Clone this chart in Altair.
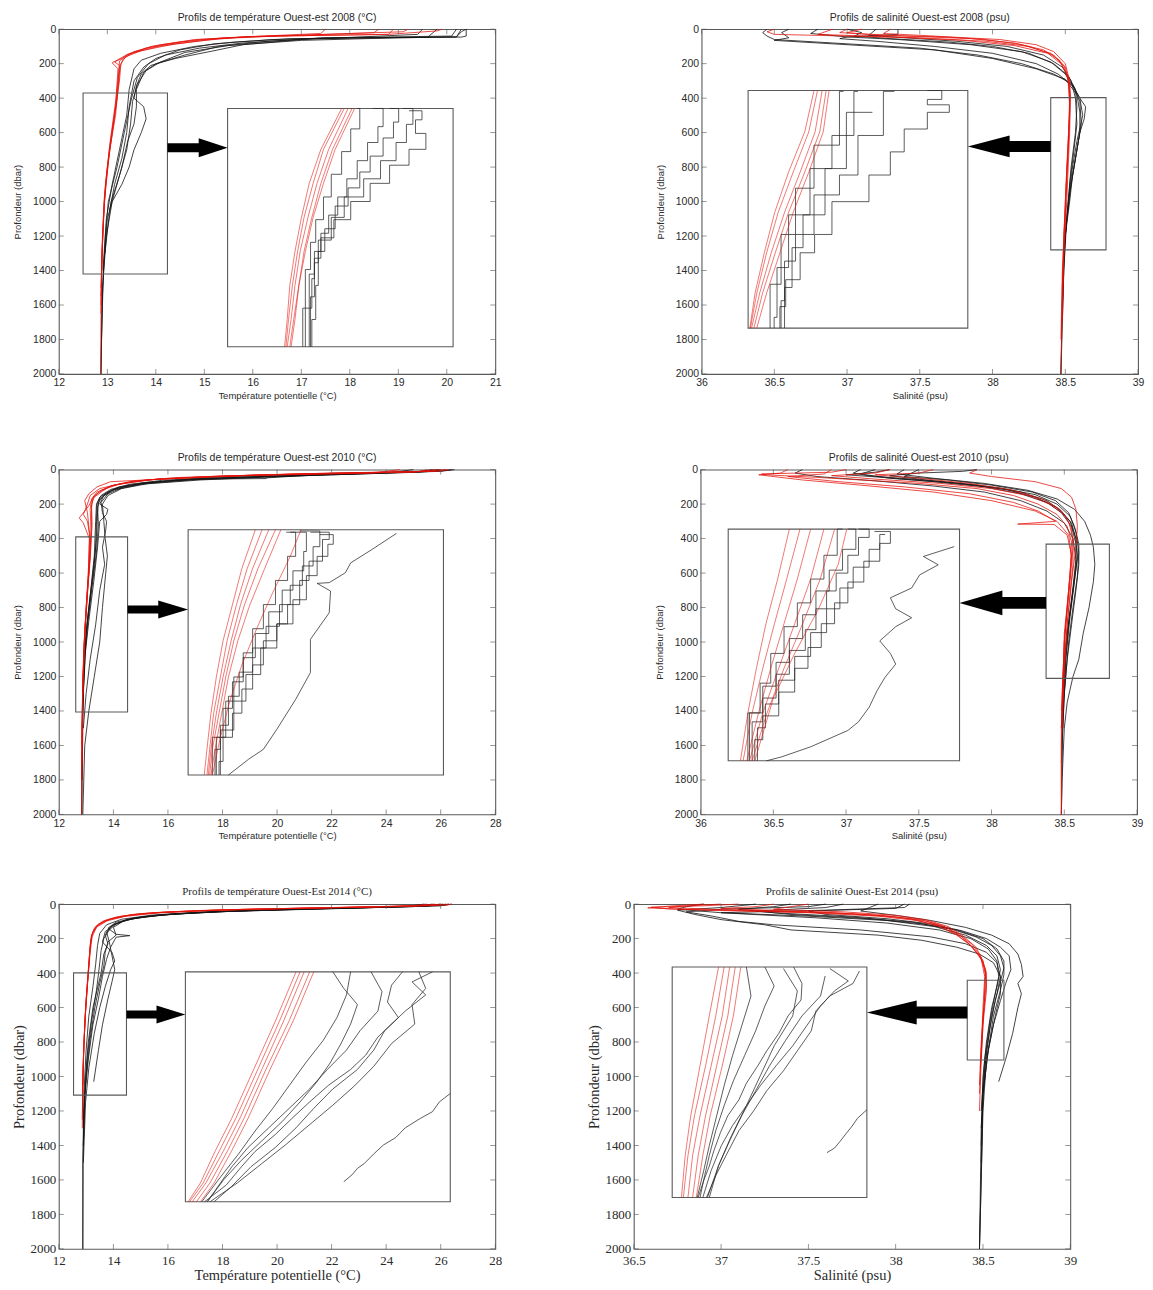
import altair as alt
import pandas as pd

# ---------------- data: profiles as (depth dbar, value) ----------------
# Panel 1 : temperature 2008
T08_RED = [
    [(0,19.2),(15,19.1),(30,17.5),(45,15.8),(65,15.0),(100,14.05),(140,13.5),(175,13.32),(220,13.26),(350,13.22),(500,13.17),(700,13.05),(900,12.97),(1100,12.92),(1400,12.88),(1700,12.87),(2000,12.86)],
    [(0,18.6),(20,18.5),(35,17.0),(50,15.4),(75,14.5),(110,13.8),(150,13.4),(185,13.25),(250,13.24),(400,13.2),(600,13.1),(800,13.0),(1000,12.93),(1300,12.89),(1650,12.87)],
    [(0,17.5),(25,17.4),(40,16.2),(60,14.9),(90,14.1),(130,13.55),(170,13.3),(190,13.15),(210,13.25),(400,13.18),(650,13.06),(900,12.96),(1200,12.9),(1500,12.87)],
    [(0,19.9),(10,19.8),(30,18.8),(40,16.5),(55,15.3),(85,14.4),(125,13.7),(160,13.38),(200,13.28),(300,13.25),(500,13.15),(750,13.03),(1000,12.94),(1300,12.89),(1600,12.87)],
    [(0,18.9),(30,18.8),(42,16.0),(60,14.8),(100,13.9),(145,13.42),(180,13.2),(195,13.1),(230,13.22),(450,13.17),(700,13.04),(950,12.95),(1250,12.9),(1550,12.87)],
]
T08_BLACK = [
    [(0,20.4),(40,20.4),(46,20.3),(50,18.0),(60,17.0),(90,15.8),(125,15.2),(170,14.4),(210,13.9),(260,13.7),(330,13.6),(400,13.55),(450,13.75),(520,13.8),(600,13.7),(700,13.55),(800,13.45),(900,13.3),(1000,13.1),(1200,12.98),(1500,12.9),(2000,12.87)],
    [(0,20.4),(15,20.3),(45,20.2),(52,17.4),(70,16.3),(100,15.3),(150,14.6),(200,14.0),(250,13.75),(350,13.6),(450,13.6),(550,13.55),(650,13.42),(800,13.3),(950,13.15),(1100,13.0),(1400,12.92),(1800,12.88)],
    [(0,19.5),(30,19.4),(48,18.0),(60,16.4),(85,15.2),(120,14.5),(170,14.0),(220,13.75),(300,13.55),(450,13.45),(600,13.4),(750,13.3),(900,13.15),(1050,13.05),(1300,12.95)],
    [(0,20.3),(45,20.2),(50,19.0),(65,17.0),(95,15.5),(135,14.6),(190,14.1),(240,13.8),(320,13.62),(420,13.52),(550,13.48),(700,13.4),(850,13.25),(1000,13.08),(1050,13.05)],
    [(0,20.2),(40,20.1),(50,17.5),(80,15.8),(110,14.9),(150,14.2),(200,13.85),(280,13.62),(400,13.5),(600,13.35),(800,13.2),(1000,13.02),(1200,12.96),(1600,12.89),(2000,12.87)],
    [(0,19.8),(48,19.6),(55,16.8),(75,15.6),(100,14.8),(140,14.1),(180,13.7),(230,13.55),(350,13.45),(500,13.4),(700,13.25),(900,13.1),(1100,12.98),(1400,12.91)],
]
T08_INSET_RED = [
    [(370,13.46),(550,13.31),(700,13.22),(850,13.15),(1000,13.09),(1150,13.05),(1300,13.01),(1420,12.98)],
    [(370,13.43),(550,13.28),(700,13.19),(850,13.12),(1000,13.06),(1150,13.02),(1300,12.99),(1420,12.96)],
    [(370,13.40),(550,13.24),(700,13.16),(850,13.09),(1000,13.04),(1150,13.0),(1300,12.97),(1420,12.95)],
    [(370,13.48),(550,13.33),(700,13.24),(850,13.16),(1000,13.1),(1150,13.05),(1300,13.02),(1420,12.99)],
    [(370,13.38),(550,13.22),(700,13.13),(850,13.07),(1000,13.02),(1150,12.98),(1300,12.96),(1420,12.94)],
]
T08_INSET_BLACK = [
    [(380,13.9),(420,14.0),(480,13.95),(550,14.03),(620,13.9),(700,13.75),(780,13.6),(860,13.45),(940,13.32),(1030,13.22),(1120,13.17),(1250,13.15),(1420,13.13)],
    [(370,13.62),(450,13.7),(520,13.66),(600,13.58),(680,13.5),(760,13.42),(840,13.35),(920,13.28),(1000,13.22),(1100,13.17),(1250,13.13),(1420,13.1)],
    [(370,13.75),(430,13.82),(500,13.78),(580,13.7),(650,13.6),(720,13.52),(800,13.43),(900,13.33),(1000,13.25),(1150,13.2),(1300,13.18),(1420,13.15)],
    [(370,13.5),(460,13.52),(560,13.45),(660,13.38),(760,13.3),(860,13.24),(960,13.18),(1080,13.14),(1250,13.1),(1420,13.08)],
    [(370,13.85),(440,13.93),(520,13.88),(600,13.8),(680,13.68),(760,13.55),(850,13.4),(950,13.3),(1050,13.2),(1200,13.17),(1420,13.14)],
]
T08_INSET_OUT = []

# Panel 2 : salinity 2008
S08_RED = [
    [(0,37.1),(20,37.0),(35,37.2),(45,37.7),(60,38.05),(90,38.3),(130,38.42),(200,38.5),(300,38.53),(400,38.535),(600,38.53),(800,38.52),(1000,38.51),(1300,38.49),(1600,38.48),(2000,38.47)],
    [(0,36.5),(15,36.45),(30,36.5),(50,37.5),(70,37.95),(100,38.25),(150,38.42),(220,38.5),(320,38.53),(500,38.53),(800,38.51),(1100,38.5),(1400,38.485),(1700,38.48)],
    [(0,37.3),(25,37.25),(40,37.6),(60,37.95),(90,38.2),(140,38.4),(210,38.49),(300,38.52),(450,38.53),(700,38.52),(1000,38.5),(1400,38.48),(1800,38.47)],
    [(0,36.9),(30,36.8),(45,37.3),(65,37.8),(95,38.15),(140,38.38),(200,38.47),(280,38.52),(400,38.53),(650,38.52),(900,38.51),(1200,38.49),(1500,38.48)],
    [(0,37.0),(20,36.95),(40,37.4),(55,37.85),(80,38.15),(120,38.35),(180,38.46),(260,38.51),(380,38.535),(600,38.525),(900,38.505),(1250,38.49),(1600,38.48)],
]
S08_BLACK = [
    [(0,37.35),(30,37.35),(45,37.0),(55,36.95),(70,37.2),(100,37.6),(140,38.0),(200,38.3),(260,38.45),(330,38.55),(400,38.6),(450,38.64),(520,38.63),(600,38.6),(700,38.58),(850,38.55),(1000,38.53),(1200,38.5),(1500,38.48),(2000,38.47)],
    [(0,36.45),(20,36.42),(40,36.45),(60,36.5),(80,36.9),(110,37.5),(150,37.9),(200,38.2),(260,38.42),(320,38.55),(400,38.6),(500,38.62),(650,38.58),(800,38.55),(1000,38.52),(1300,38.49),(1700,38.48)],
    [(0,37.0),(20,37.1),(40,37.05),(55,37.3),(75,37.7),(100,38.0),(140,38.25),(200,38.42),(270,38.52),(350,38.57),(450,38.58),(600,38.57),(800,38.54),(1000,38.52),(1300,38.49)],
    [(0,37.2),(35,37.15),(50,37.4),(70,37.75),(100,38.1),(150,38.35),(220,38.48),(300,38.54),(400,38.57),(550,38.58),(700,38.56),(900,38.53),(1050,38.52)],
    [(0,36.8),(25,36.75),(45,37.0),(60,37.35),(90,37.85),(130,38.2),(190,38.4),(260,38.5),(340,38.56),(420,38.6),(550,38.61),(700,38.58),(900,38.54),(1100,38.51),(1400,38.49),(2000,38.47)],
    [(0,36.6),(20,36.55),(50,36.6),(65,36.5),(90,37.0),(120,37.6),(170,38.0),(230,38.3),(290,38.5),(380,38.58),(480,38.6),(600,38.6),(750,38.57),(950,38.53),(1200,38.5),(1600,38.48)],
]
S08_INSET_RED = [
    [(397,38.540),(550,38.530),(700,38.505),(850,38.478),(1000,38.455),(1150,38.432),(1280,38.415)],
    [(397,38.535),(550,38.524),(700,38.498),(850,38.470),(1000,38.447),(1150,38.425),(1280,38.41)],
    [(397,38.528),(550,38.516),(700,38.49),(850,38.463),(1000,38.44),(1150,38.42),(1280,38.406)],
    [(397,38.520),(550,38.505),(700,38.478),(850,38.452),(1000,38.432),(1150,38.415),(1280,38.404)],
    [(397,38.514),(550,38.498),(700,38.47),(850,38.446),(1000,38.428),(1150,38.412),(1280,38.403)],
]
S08_INSET_BLACK = [
    [(397,38.71),(430,38.735),(450,38.71),(478,38.748),(540,38.71),(625,38.67),(711,38.646),(810,38.609),(932,38.545),(1000,38.515),(1100,38.49),(1200,38.465),(1280,38.455)],
    [(400,38.653),(564,38.634),(711,38.59),(785,38.558),(932,38.514),(1031,38.482),(1178,38.463),(1280,38.457)],
    [(400,38.59),(564,38.583),(687,38.545),(859,38.507),(1055,38.47),(1240,38.45),(1280,38.445)],
    [(400,38.565),(600,38.558),(760,38.514),(932,38.482),(1117,38.457),(1280,38.438)],
    [(478,38.615),(687,38.57),(859,38.533),(981,38.495),(1129,38.476),(1280,38.463)],
]
S08_INSET_OUT = []

# Panel 3 : temperature 2010
T10_RED = [
    [(0,26.3),(8,26.0),(20,22.0),(35,18.5),(55,15.6),(80,14.3),(110,13.5),(150,13.15),(200,13.05),(260,12.9),(300,13.05),(400,13.15),(600,13.1),(800,13.0),(1000,12.93),(1200,12.88),(1500,12.85),(2000,12.83)],
    [(0,26.0),(10,25.6),(25,21.0),(40,17.5),(60,15.2),(90,14.0),(130,13.4),(170,13.2),(230,13.15),(350,13.18),(500,13.14),(700,13.05),(900,12.97),(1100,12.91),(1400,12.86),(1800,12.84)],
    [(0,25.5),(12,25.2),(28,20.0),(45,16.5),(65,14.8),(100,13.8),(150,13.3),(210,13.1),(280,12.75),(310,12.9),(400,13.12),(600,13.08),(800,13.0),(1000,12.93),(1300,12.87),(1600,12.85)],
    [(0,26.2),(10,25.8),(22,21.5),(38,17.8),(58,15.4),(85,14.2),(120,13.55),(165,13.25),(220,13.2),(320,13.22),(450,13.17),(650,13.08),(850,12.99),(1050,12.92),(1350,12.87),(1700,12.85)],
    [(0,25.8),(15,25.0),(30,19.5),(50,16.0),(70,14.6),(95,13.9),(125,13.6),(160,13.3),(200,13.2),(300,13.2),(500,13.16),(700,13.06),(900,12.98),(1200,12.9)],
    [(0,24.5),(20,23.5),(35,18.8),(55,15.8),(70,13.9),(100,13.4),(140,13.1),(180,12.95),(250,13.05),(380,13.13),(550,13.1),(750,13.03),(950,12.95),(1250,12.88),(1600,12.85)],
]
T10_BLACK = [
    [(0,26.5),(10,26.0),(25,22.5),(45,18.5),(65,16.0),(90,14.6),(120,13.9),(160,13.5),(200,13.4),(300,13.38),(450,13.35),(600,13.25),(800,13.1),(1000,12.97),(1200,12.9),(1500,12.86),(2000,12.84)],
    [(0,26.0),(12,25.5),(30,21.5),(48,19.6),(52,19.6),(55,17.0),(75,15.2),(100,14.2),(140,13.7),(190,13.45),(250,13.42),(400,13.38),(550,13.3),(750,13.15),(950,13.0),(1150,12.92),(1500,12.86)],
    [(0,25.7),(15,25.0),(35,20.5),(55,16.8),(80,15.0),(110,14.1),(150,13.65),(200,13.5),(230,13.8),(260,13.75),(300,13.5),(450,13.42),(650,13.28),(850,13.12),(1050,12.98),(1300,12.9),(1800,12.85)],
    [(0,26.2),(10,25.7),(28,21.8),(50,17.5),(72,15.5),(100,14.4),(140,13.8),(190,13.55),(250,13.6),(300,13.75),(350,13.72),(450,13.6),(550,13.68),(700,13.5),(900,13.35),(1100,13.15),(1300,13.0),(1500,12.9)],
    [(0,25.9),(15,25.2),(35,21.0),(58,17.0),(80,15.3),(110,14.3),(150,13.8),(200,13.6),(300,13.65),(400,13.7),(500,13.78),(600,13.72),(800,13.6),(1000,13.5),(1200,13.3),(1400,13.1),(1600,12.95),(2000,12.88)],
    [(0,26.4),(8,26.0),(22,22.0),(40,18.2),(62,15.8),(85,14.6),(115,13.9),(150,13.55),(200,13.38),(300,13.35),(500,13.3),(700,13.17),(900,13.03),(1100,12.94),(1400,12.87),(2000,12.84)],
    [(0,25.0),(20,24.0),(40,20.0),(60,17.2),(85,15.0),(120,13.95),(170,13.5),(220,13.42),(320,13.45),(480,13.38),(680,13.22),(880,13.07),(1080,12.96),(1350,12.88)],
]
T10_INSET_RED = [
    [(390,13.12),(550,13.02),(700,12.95),(850,12.88),(1000,12.83),(1150,12.79),(1300,12.76),(1406,12.74)],
    [(390,13.17),(550,13.06),(700,12.98),(850,12.91),(1000,12.86),(1150,12.81),(1300,12.78),(1406,12.76)],
    [(390,13.22),(550,13.1),(700,13.01),(850,12.94),(1000,12.88),(1150,12.83),(1300,12.79),(1406,12.77)],
    [(390,13.27),(550,13.14),(700,13.04),(850,12.96),(1000,12.9),(1150,12.85),(1300,12.8),(1406,12.78)],
    [(390,13.31),(550,13.19),(700,13.08),(850,12.99),(1000,12.92),(1150,12.87),(1300,12.82),(1406,12.79)],
    [(390,13.46),(500,13.38),(650,13.25),(800,13.13),(950,13.02),(1100,12.93),(1250,12.86),(1406,12.8)],
]
T10_INSET_BLACK = [
    [(400,13.53),(430,13.67),(520,13.62),(600,13.52),(700,13.45),(780,13.36),(850,13.28),(950,13.18),(1050,13.1),(1150,13.02),(1250,12.95),(1350,12.88),(1406,12.85)],
    [(395,13.45),(460,13.6),(540,13.55),(620,13.47),(700,13.38),(790,13.3),(880,13.2),(980,13.1),(1080,13.0),(1200,12.92),(1300,12.86),(1406,12.82)],
    [(400,13.38),(480,13.5),(560,13.48),(640,13.4),(730,13.32),(820,13.22),(920,13.12),(1020,13.03),(1130,12.95),(1250,12.88),(1406,12.8)],
    [(410,13.6),(450,13.7),(500,13.66),(580,13.58),(680,13.5),(780,13.4),(880,13.28),(990,13.16),(1100,13.05),(1220,12.96),(1406,12.86)],
    [(400,13.35),(500,13.42),(600,13.36),(700,13.27),(800,13.18),(900,13.1),(1000,13.03),(1100,12.96),(1250,12.9),(1406,12.83)],
]
T10_INSET_OUT = [
    [(405,14.17),(471,13.99),(527,13.83),(568,13.79),(609,13.67),(612,13.58),(644,13.68),(734,13.67),(844,13.53),(982,13.53),(1093,13.42),(1217,13.28),(1300,13.18),(1341,13.07),(1406,12.92)],
]

# Panel 4 : salinity 2010
S10_RED = [
    [(0,37.0),(15,36.9),(25,36.42),(30,36.45),(45,36.8),(60,37.1),(80,37.5),(110,37.9),(150,38.15),(200,38.32),(260,38.45),(330,38.52),(420,38.55),(600,38.54),(800,38.52),(1000,38.5),(1300,38.49),(1600,38.48),(2000,38.48)],
    [(0,37.3),(20,37.2),(35,36.9),(55,37.2),(80,37.65),(110,38.0),(150,38.25),(200,38.4),(260,38.5),(340,38.55),(450,38.56),(650,38.54),(900,38.51),(1200,38.49),(1500,38.48)],
    [(0,36.9),(25,36.85),(40,36.6),(70,36.95),(100,37.4),(140,37.85),(190,38.15),(240,38.32),(300,38.44),(316,38.18),(318,38.43),(380,38.52),(500,38.55),(700,38.53),(950,38.5),(1300,38.49)],
    [(0,37.9),(20,37.85),(40,38.0),(70,38.3),(110,38.48),(160,38.55),(230,38.58),(330,38.59),(450,38.58),(650,38.55),(900,38.52),(1200,38.5),(1500,38.485)],
    [(0,36.6),(20,36.55),(30,36.4),(60,36.7),(90,37.1),(130,37.6),(180,38.0),(240,38.3),(300,38.45),(380,38.53),(500,38.55),(700,38.53),(1000,38.5),(1400,38.48)],
    [(0,37.6),(20,37.5),(30,37.2),(50,37.5),(80,37.85),(120,38.15),(170,38.35),(230,38.47),(300,38.53),(400,38.56),(550,38.56),(800,38.53),(1100,38.5),(1500,38.48),(2000,38.48)],
]
S10_BLACK = [
    [(0,37.3),(15,37.2),(30,37.0),(45,37.25),(70,37.6),(100,37.95),(140,38.2),(190,38.38),(250,38.48),(330,38.55),(430,38.58),(550,38.58),(700,38.56),(900,38.53),(1100,38.51),(1400,38.49),(2000,38.48)],
    [(0,37.1),(20,37.05),(35,37.15),(55,37.45),(80,37.8),(115,38.1),(160,38.3),(220,38.45),(300,38.54),(400,38.58),(500,38.59),(650,38.57),(850,38.54),(1100,38.51),(1500,38.49)],
    [(0,37.9),(10,37.8),(20,37.5),(35,37.3),(60,37.55),(90,37.9),(130,38.2),(180,38.38),(240,38.48),(310,38.55),(400,38.58),(520,38.59),(700,38.56),(950,38.52),(1300,38.49)],
    [(0,37.4),(25,37.35),(50,37.6),(80,37.95),(120,38.25),(170,38.45),(230,38.57),(300,38.64),(380,38.68),(450,38.7),(550,38.71),(650,38.7),(800,38.67),(950,38.63),(1100,38.6),(1200,38.56),(1350,38.52),(1500,38.5),(1800,38.485),(2000,38.48)],
    [(0,36.7),(20,36.65),(40,36.8),(65,37.2),(95,37.6),(130,37.95),(180,38.2),(240,38.38),(310,38.5),(400,38.56),(520,38.58),(680,38.56),(880,38.53),(1100,38.5),(1500,38.48)],
    [(0,37.5),(20,37.45),(40,37.4),(60,37.7),(90,38.0),(130,38.28),(180,38.44),(250,38.53),(330,38.57),(430,38.6),(550,38.6),(700,38.58),(900,38.55),(1100,38.52),(1400,38.49)],
    [(0,37.2),(25,37.1),(50,37.3),(75,37.7),(105,38.05),(145,38.3),(200,38.45),(270,38.54),(360,38.58),(480,38.6),(620,38.59),(800,38.56),(1000,38.53),(1300,38.5),(1700,38.48)],
]
S10_INSET_RED = [
    [(432,38.49),(600,38.468),(750,38.446),(900,38.428),(1050,38.412),(1211,38.398)],
    [(432,38.51),(600,38.485),(750,38.462),(900,38.44),(1050,38.42),(1211,38.403)],
    [(432,38.53),(600,38.505),(750,38.48),(900,38.455),(1050,38.432),(1211,38.41)],
    [(432,38.555),(600,38.53),(750,38.5),(900,38.47),(1050,38.44),(1211,38.415)],
    [(432,38.575),(600,38.548),(750,38.515),(900,38.48),(1050,38.448),(1211,38.42)],
    [(432,38.598),(550,38.582),(700,38.545),(850,38.5),(1000,38.46),(1211,38.425)],
]
S10_INSET_BLACK = [
    [(432,38.62),(460,38.64),(520,38.62),(580,38.6),(640,38.578),(700,38.56),(770,38.54),(840,38.52),(920,38.49),(1000,38.465),(1080,38.44),(1211,38.42)],
    [(440,38.65),(480,38.68),(540,38.66),(610,38.63),(680,38.6),(750,38.575),(830,38.55),(900,38.525),(980,38.5),(1060,38.47),(1140,38.44),(1211,38.425)],
    [(432,38.6),(500,38.615),(570,38.59),(640,38.565),(720,38.54),(800,38.515),(880,38.49),(960,38.465),(1050,38.44),(1211,38.412)],
    [(450,38.67),(500,38.66),(560,38.64),(630,38.61),(700,38.585),(780,38.56),(860,38.53),(940,38.5),(1020,38.47),(1100,38.445),(1211,38.43)],
    [(432,38.59),(520,38.58),(600,38.555),(680,38.53),(760,38.505),(850,38.48),(950,38.455),(1050,38.435),(1211,38.415)],
]
S10_INSET_OUT = [
    [(491,38.80),(524,38.742),(552,38.77),(586,38.735),(630,38.72),(663,38.68),(700,38.69),(730,38.72),(760,38.69),(808,38.66),(850,38.68),(886,38.69),(930,38.67),(975,38.655),(1031,38.64),(1080,38.62),(1109,38.6),(1164,38.53),(1198,38.475),(1211,38.447)],
]

# Panel 5 : temperature 2014
T14_RED = [
    [(0,26.3),(5,26.0),(15,24.0),(25,20.5),(35,17.5),(50,15.4),(70,14.3),(95,13.7),(130,13.35),(180,13.2),(250,13.15),(400,13.08),(600,12.98),(800,12.92),(1000,12.88),(1300,12.86)],
    [(0,26.0),(8,25.5),(18,23.0),(28,19.5),(40,16.8),(55,15.0),(75,14.1),(100,13.6),(140,13.3),(200,13.17),(300,13.12),(500,13.03),(700,12.95),(900,12.9),(1200,12.87)],
    [(0,25.8),(10,25.2),(20,22.0),(30,18.8),(45,16.0),(60,14.7),(85,13.9),(115,13.45),(160,13.25),(230,13.16),(350,13.1),(550,13.0),(750,12.94),(950,12.89),(1250,12.86)],
    [(0,26.4),(6,26.2),(14,24.5),(24,21.0),(36,17.8),(52,15.6),(72,14.4),(98,13.75),(135,13.38),(190,13.22),(280,13.15),(450,13.06),(650,12.97),(850,12.91),(1100,12.87)],
    [(0,25.5),(10,25.0),(22,21.5),(33,18.0),(48,15.8),(65,14.6),(90,13.85),(125,13.42),(175,13.22),(260,13.14),(420,13.07),(620,12.98),(820,12.92),(1050,12.88)],
]
T14_BLACK = [
    [(0,26.3),(10,26.0),(22,23.0),(35,19.5),(50,17.0),(70,15.3),(95,14.4),(130,13.9),(180,13.7),(230,13.8),(290,13.65),(400,13.55),(500,13.4),(600,13.25),(800,13.08),(1000,12.98),(1200,12.92),(1500,12.89),(2000,12.88)],
    [(0,26.0),(12,25.5),(25,22.0),(40,18.5),(58,16.2),(80,14.8),(105,14.1),(140,13.8),(175,14.1),(183,14.6),(192,14.1),(250,13.9),(320,13.75),(420,13.6),(550,13.45),(700,13.25),(900,13.08),(1100,12.96),(1400,12.9)],
    [(0,25.7),(15,25.0),(30,21.0),(45,17.8),(65,15.6),(90,14.5),(120,14.0),(160,13.7),(220,13.6),(280,13.95),(330,14.05),(380,13.9),(480,13.7),(600,13.5),(750,13.3),(950,13.1),(1150,12.98),(1500,12.9)],
    [(0,26.1),(10,25.6),(25,22.5),(42,18.2),(60,16.0),(85,14.7),(115,14.05),(160,13.75),(220,13.85),(300,13.95),(380,14.05),(450,13.95),(550,13.8),(700,13.6),(850,13.45),(1030,13.28)],
    [(0,26.4),(8,26.1),(20,23.5),(32,20.0),(46,17.2),(64,15.4),(88,14.3),(120,13.75),(170,13.5),(240,13.42),(350,13.35),(480,13.25),(650,13.1),(850,13.0),(1100,12.92),(1500,12.88),(2000,12.88)],
    [(0,25.4),(12,24.8),(26,21.5),(40,18.3),(56,16.3),(75,15.0),(100,14.35),(135,14.0),(180,14.1),(220,13.8),(280,13.7),(360,13.65),(460,13.5),(600,13.32),(780,13.15),(1000,13.0),(1300,12.9)],
    [(0,26.2),(6,26.0),(18,23.8),(30,20.5),(44,17.6),(62,15.7),(85,14.6),(115,14.1),(150,13.85),(200,13.65),(270,13.55),(370,13.48),(500,13.38),(680,13.2),(880,13.05),(1100,12.95),(1400,12.9)],
]
T14_INSET_RED = [
    [(399,13.48),(550,13.33),(700,13.16),(850,13.0),(950,12.88),(1050,12.75),(1108,12.65)],
    [(399,13.45),(550,13.3),(700,13.13),(850,12.97),(950,12.85),(1050,12.72),(1108,12.62)],
    [(399,13.41),(550,13.26),(700,13.1),(850,12.94),(950,12.82),(1050,12.69),(1108,12.59)],
    [(399,13.38),(550,13.23),(700,13.07),(850,12.91),(950,12.79),(1050,12.67),(1108,12.57)],
    [(399,13.35),(550,13.2),(700,13.04),(850,12.88),(950,12.76),(1050,12.65),(1108,12.56)],
]
T14_INSET_BLACK = [
    [(399,14.13),(440,14.05),(492,14.02),(540,14.1),(600,13.95),(656,13.86),(700,13.75),(748,13.59),(800,13.45),(851,13.32),(900,13.2),(953,13.05),(1000,12.95),(1056,12.84),(1108,12.68)],
    [(399,13.62),(450,13.7),(500,13.8),(560,13.75),(620,13.68),(680,13.6),(740,13.5),(800,13.38),(860,13.25),(920,13.1),(980,12.95),(1040,12.82),(1108,12.7)],
    [(399,14.35),(430,14.2),(470,14.3),(520,14.15),(580,14.0),(640,13.92),(700,13.8),(760,13.62),(820,13.48),(880,13.35),(940,13.2),(1000,13.02),(1060,12.88),(1108,12.75)],
    [(399,13.9),(460,13.98),(520,13.95),(580,13.82),(640,13.72),(700,13.58),(760,13.45),(820,13.3),(880,13.15),(940,13.0),(1000,12.88),(1060,12.78),(1108,12.7)],
    [(399,14.25),(450,14.3),(500,14.2),(560,14.22),(620,14.05),(690,13.92),(750,13.78),(810,13.62),(870,13.45),(930,13.28),(990,13.1),(1050,12.92),(1108,12.72)],
    [(399,13.75),(470,13.72),(540,13.65),(610,13.55),(680,13.42),(750,13.3),(820,13.18),(890,13.05),(960,12.93),(1030,12.8),(1108,12.66)],
]
T14_INSET_OUT = [
    [(774,14.48),(800,14.4),(830,14.35),(851,14.26),(880,14.15),(910,14.08),(933,13.99),(960,13.92),(990,13.85),(1005,13.8),(1025,13.76),(1046,13.7)],
]

# Panel 6 : salinity 2014
S14_RED = [
    [(0,37.1),(10,36.9),(18,36.6),(28,36.7),(40,37.2),(55,37.7),(75,38.0),(100,38.18),(140,38.3),(190,38.38),(250,38.44),(330,38.5),(400,38.52),(500,38.52),(700,38.5),(900,38.49),(1200,38.48)],
    [(0,36.9),(12,36.7),(22,36.58),(35,36.9),(50,37.5),(70,37.9),(95,38.12),(130,38.25),(180,38.35),(240,38.43),(320,38.49),(420,38.51),(600,38.5),(850,38.49),(1100,38.48)],
    [(0,37.3),(15,37.2),(25,37.0),(40,37.4),(60,37.85),(85,38.08),(120,38.23),(170,38.34),(230,38.42),(300,38.48),(380,38.515),(550,38.51),(800,38.49),(1050,38.48)],
    [(0,37.0),(10,36.8),(20,36.7),(32,37.0),(48,37.6),(68,37.95),(92,38.15),(125,38.27),(175,38.36),(235,38.44),(310,38.49),(400,38.515),(600,38.505),(900,38.49)],
    [(0,37.5),(15,37.4),(30,37.3),(45,37.7),(65,38.0),(90,38.17),(130,38.3),(180,38.38),(250,38.46),(330,38.5),(450,38.52),(650,38.5),(950,38.485)],
]
S14_BLACK = [
    [(0,38.08),(20,38.05),(35,37.6),(50,37.0),(70,37.5),(95,37.95),(130,38.22),(180,38.4),(240,38.52),(300,38.58),(380,38.6),(480,38.58),(600,38.55),(800,38.52),(1000,38.5),(1300,38.49),(2000,38.48)],
    [(0,37.6),(15,37.5),(30,37.0),(45,36.8),(70,36.95),(100,37.1),(120,37.3),(150,37.8),(190,38.2),(230,38.4),(280,38.52),(340,38.58),(420,38.6),(520,38.58),(650,38.55),(850,38.52),(1100,38.5),(1500,38.49)],
    [(0,37.2),(20,37.0),(35,36.75),(60,36.85),(90,37.0),(120,37.25),(150,37.4),(180,37.9),(210,38.15),(250,38.35),(290,38.48),(340,38.56),(420,38.6),(520,38.6),(650,38.57),(850,38.53),(1100,38.5),(1400,38.49)],
    [(0,38.05),(25,38.0),(40,37.5),(60,37.6),(85,37.95),(115,38.2),(155,38.38),(200,38.52),(250,38.6),(300,38.65),(380,38.66),(460,38.63),(560,38.6),(700,38.56),(900,38.52),(1200,38.5),(2000,38.48)],
    [(0,37.9),(20,37.85),(40,37.8),(65,38.0),(95,38.2),(135,38.4),(180,38.55),(230,38.65),(290,38.7),(350,38.72),(420,38.73),(460,38.7),(520,38.72),(600,38.7),(750,38.67),(900,38.63),(1030,38.59)],
    [(0,37.4),(15,37.3),(30,37.1),(50,37.3),(75,37.75),(105,38.1),(145,38.32),(190,38.46),(240,38.55),(300,38.6),(370,38.62),(450,38.6),(560,38.57),(720,38.54),(950,38.51),(1300,38.49)],
    [(0,37.7),(20,37.6),(40,37.2),(60,37.4),(85,37.85),(115,38.15),(150,38.35),(200,38.5),(260,38.58),(330,38.62),(410,38.62),(500,38.6),(650,38.56),(850,38.53),(1100,38.5),(1600,38.49),(2000,38.48)],
    [(0,36.9),(15,36.8),(30,36.75),(50,37.0),(80,37.55),(110,37.95),(150,38.25),(200,38.43),(260,38.53),(330,38.58),(420,38.59),(520,38.57),(680,38.54),(900,38.51),(1200,38.49)],
]
S14_INSET_RED = [
    [(442,38.478),(540,38.47),(640,38.458),(740,38.446),(820,38.438),(904,38.432)],
    [(442,38.472),(540,38.464),(640,38.452),(740,38.44),(820,38.432),(904,38.427)],
    [(442,38.466),(540,38.457),(640,38.446),(740,38.434),(820,38.427),(904,38.422)],
    [(442,38.46),(540,38.45),(640,38.44),(740,38.43),(820,38.424),(904,38.42)],
    [(442,38.484),(540,38.476),(640,38.464),(740,38.451),(820,38.443),(904,38.436)],
]
S14_INSET_BLACK = [
    [(442,38.541),(475,38.55),(508,38.549),(540,38.535),(575,38.525),(610,38.512),(641,38.502),(675,38.49),(708,38.482),(740,38.47),(774,38.462),(810,38.455),(841,38.45),(870,38.444),(904,38.438)],
    [(445,38.58),(470,38.6),(490,38.585),(520,38.57),(560,38.555),(600,38.54),(640,38.522),(680,38.505),(720,38.49),(760,38.475),(800,38.463),(850,38.452),(904,38.443)],
    [(442,38.51),(480,38.52),(520,38.51),(570,38.5),(620,38.488),(670,38.476),(720,38.466),(770,38.457),(820,38.45),(860,38.445),(904,38.44)],
    [(450,38.612),(475,38.605),(500,38.58),(530,38.565),(570,38.56),(610,38.545),(650,38.53),(690,38.512),(730,38.498),(770,38.482),(820,38.468),(860,38.457),(904,38.447)],
    [(442,38.49),(500,38.495),(560,38.485),(620,38.475),(680,38.466),(740,38.458),(800,38.45),(850,38.444),(904,38.437)],
    [(460,38.575),(500,38.57),(540,38.55),(590,38.532),(640,38.515),(690,38.5),(740,38.485),(790,38.472),(840,38.46),(904,38.45)],
    [(445,38.53),(490,38.545),(540,38.54),(600,38.52),(660,38.505),(720,38.49),(780,38.474),(840,38.46),(904,38.448)],
]
S14_INSET_OUT = [
    [(728,38.62),(745,38.61),(761,38.604),(775,38.598),(794,38.59),(805,38.585),(814,38.577)],
]

# zoom boxes (x0, x1, depth0, depth1) and inset frames, arrows (depth, head length, head height, shaft width)
BOXES = {
    "T08": (12.5, 14.24, 370, 1420), "S08": (38.40, 38.78, 397, 1280),
    "T10": (12.62, 14.52, 390, 1406), "S10": (38.375, 38.81, 432, 1211),
    "T14": (12.54, 14.48, 399, 1108), "S14": (38.41, 38.62, 442, 904),
}
INSETS = {
    "T08": (15.48, 20.13, 460, 1842), "S08": (36.32, 37.83, 356, 1734),
    "T10": (16.74, 26.1, 349, 1771), "S10": (36.19, 37.78, 345, 1689),
    "T14": (16.64, 26.35, 393, 1727), "S14": (36.72, 37.835, 365, 1702),
}
ARROWS = {
    "T08": (688, 29, 19, 9), "S08": (680, 42, 22, 11),
    "T10": (811, 30, 18, 8), "S10": (773, 43, 25, 12),
    "T14": (640, 29, 18, 8), "S14": (629, 50, 24, 12),
}

TITLES = {
    "T08": "Profils de température Ouest-est 2008 (°C)",
    "S08": "Profils de salinité Ouest-est 2008 (psu)",
    "T10": "Profils de température Ouest-est 2010 (°C)",
    "S10": "Profils de salinité Ouest-est 2010 (psu)",
    "T14": "Profils de température Ouest-Est 2014 (°C)",
    "S14": "Profils de salinité Ouest-Est 2014 (psu)",
}
XDOM = {"T08": (12, 21), "S08": (36, 39), "T10": (12, 28), "S10": (36, 39), "T14": (12, 28), "S14": (36.5, 39)}
XTICKS = {
    "T08": list(range(12, 22)), "S08": [36, 36.5, 37, 37.5, 38, 38.5, 39],
    "T10": list(range(12, 29, 2)), "S10": [36, 36.5, 37, 37.5, 38, 38.5, 39],
    "T14": list(range(12, 29, 2)), "S14": [36.5, 37, 37.5, 38, 38.5, 39],
}
XTITLE_T = "Température potentielle (°C)"
XTITLE_S = "Salinité (psu)"
YTITLE = "Profondeur (dbar)"
DEPTH_TICKS = list(range(0, 2001, 200))

W, H = 438, 346
RED = "#e3120b"
BLACK = "#161616"
FRAME = "#5a5a5a"
TEXT = "#2a2a2a"
TICK_LEN = 5


def to_df(profiles, tag):
    rows = []
    for i, prof in enumerate(profiles):
        for j, (d, v) in enumerate(prof):
            rows.append({"pid": f"{tag}{i}", "seq": j, "d": d, "v": v})
    return pd.DataFrame(rows, columns=["pid", "seq", "d", "v"])


def panel(key, red, black, ired, iblack, iout, style, step):
    xmin, xmax = XDOM[key]
    font = style["font"]
    xs = alt.Scale(domain=[xmin, xmax], nice=False, zero=False)
    ys = alt.Scale(domain=[0, 2000], nice=False, zero=False, reverse=True)
    common = dict(grid=False, ticks=False, domain=False, labelFlush=False, labelOverlap=False,
                  labelFont=font, titleFont=font, labelFontSize=style["label"],
                  titleFontSize=style["atitle"], labelColor=TEXT, titleColor=TEXT,
                  titleFontWeight="normal")
    xaxis = alt.Axis(values=XTICKS[key], title=XTITLE_T if key[0] == "T" else XTITLE_S,
                     format="d" if key[0] == "T" else "~g",
                     labelPadding=style["xlp"], titlePadding=style["xtp"], **common)
    yaxis = alt.Axis(values=DEPTH_TICKS, title=YTITLE, format="d", labelPadding=3,
                     minExtent=30, maxExtent=30, titlePadding=style["ytp"], **common)

    def X(field):
        return alt.X(field, scale=xs, axis=xaxis)

    def Y(field):
        return alt.Y(field, scale=ys, axis=yaxis)

    def lines(df, color, width, opacity, interp):
        return alt.Chart(df).mark_line(color=color, strokeWidth=width, opacity=opacity,
                                       interpolate=interp).encode(
            x=X("v:Q"), y=Y("d:Q"), detail="pid:N", order="seq:Q")

    main_black = lines(to_df(black, "b"), BLACK, 0.9, 0.9, "linear")
    main_red = lines(to_df(red, "r"), RED, 0.9, 0.85, "linear")

    # inward tick marks on the four sides of the frame (MATLAB style)
    ydf = pd.DataFrame({"d": DEPTH_TICKS})
    xdf = pd.DataFrame({"v": XTICKS[key]})
    half = TICK_LEN / 2
    tk = dict(color=FRAME, size=TICK_LEN, thickness=0.9)
    ticks = [
        alt.Chart(ydf).mark_tick(**tk).encode(y=Y("d:Q"), x=alt.value(half)),
        alt.Chart(ydf).mark_tick(**tk).encode(y=Y("d:Q"), x=alt.value(W - half)),
        alt.Chart(xdf).mark_tick(**tk).encode(x=X("v:Q"), y=alt.value(H - half)),
        alt.Chart(xdf).mark_tick(**tk).encode(x=X("v:Q"), y=alt.value(half)),
    ]

    bx0, bx1, bd0, bd1 = BOXES[key]
    ix0, ix1, id0, id1 = INSETS[key]
    frames = pd.DataFrame({"v": [bx0, ix0], "x1": [bx1, ix1], "d": [bd0, id0], "d1": [bd1, id1]})
    rects = alt.Chart(frames).mark_rect(fillOpacity=0, stroke=FRAME, strokeWidth=1.1).encode(
        x=X("v:Q"), x2="x1:Q", y=Y("d:Q"), y2="d1:Q")

    ad, L, hh, sw = ARROWS[key]
    right = ix0 > bx1
    arr = pd.DataFrame({"xa": [bx1 if right else bx0], "v": [ix0 if right else ix1], "d": [ad]})
    a = hh / L
    shaft = alt.Chart(arr).mark_rule(color="black", strokeWidth=sw,
                                     x2Offset=(-0.6 * L if right else 0.6 * L)).encode(
        x=X("xa:Q"), x2="v:Q", y=Y("d:Q"))
    path = (f"M-1,{-a:.3f}L1,0L-1,{a:.3f}Z" if right else f"M1,{-a:.3f}L-1,0L1,{a:.3f}Z")
    head = alt.Chart(arr).mark_point(shape=path, size=L * L, filled=True, color="black",
                                     opacity=1, strokeWidth=0,
                                     xOffset=(-L / 2 if right else L / 2)).encode(
        x=X("v:Q"), y=Y("d:Q"))

    main = alt.layer(main_black, main_red, *ticks, rects, shaft, head)

    # inset: the zoom box drawn magnified inside the inset frame
    px0 = (ix0 - xmin) / (xmax - xmin) * W
    px1 = (ix1 - xmin) / (xmax - xmin) * W
    py0 = id0 / 2000 * H
    py1 = id1 / 2000 * H
    ixs = alt.Scale(domain=[bx0, bx1], range=[px0, px1], nice=False, zero=False)
    iys = alt.Scale(domain=[bd0, bd1], range=[py0, py1], nice=False, zero=False)

    def ilines(df, color, width, opacity, interp):
        return alt.Chart(df).mark_line(color=color, strokeWidth=width, opacity=opacity,
                                       interpolate=interp).encode(
            x=alt.X("v:Q", scale=ixs, axis=None),
            y=alt.Y("d:Q", scale=iys, axis=None),
            detail="pid:N", order="seq:Q")

    ilayers = [ilines(to_df(iblack, "ib"), "#2b2b2b", 0.9, 0.85, step),
               ilines(to_df(ired, "ir"), RED, 0.8, 0.7, "linear")]
    if iout:
        ilayers.append(ilines(to_df(iout, "io"), "#2b2b2b", 0.9, 0.85, "linear"))
    inset = alt.layer(*ilayers)

    return alt.layer(main, inset).resolve_scale(x="independent", y="independent").properties(
        width=W, height=H,
        title=alt.TitleParams(TITLES[key], font=font, fontSize=style["title"], frame="group",
                              fontWeight="normal", color=TEXT, offset=style["toff"]))


SANS = dict(font="Liberation Sans", label=10.5, atitle=9.5, title=10.5, xlp=4, xtp=2, ytp=6, toff=1)
SERIF = dict(font="Liberation Serif", label=13, atitle=14.5, title=11, xlp=6, xtp=1, ytp=2, toff=1)

p1 = panel("T08", T08_RED, T08_BLACK, T08_INSET_RED, T08_INSET_BLACK, T08_INSET_OUT, SANS, "step-after")
p2 = panel("S08", S08_RED, S08_BLACK, S08_INSET_RED, S08_INSET_BLACK, S08_INSET_OUT, SANS, "step-after")
p3 = panel("T10", T10_RED, T10_BLACK, T10_INSET_RED, T10_INSET_BLACK, T10_INSET_OUT, SANS, "step-after")
p4 = panel("S10", S10_RED, S10_BLACK, S10_INSET_RED, S10_INSET_BLACK, S10_INSET_OUT, SANS, "step-after")
p5 = panel("T14", T14_RED, T14_BLACK, T14_INSET_RED, T14_INSET_BLACK, T14_INSET_OUT, SERIF, "linear")
p6 = panel("S14", S14_RED, S14_BLACK, S14_INSET_RED, S14_INSET_BLACK, S14_INSET_OUT, SERIF, "linear")

row1 = alt.hconcat(p1, p2, spacing=153)
row2 = alt.hconcat(p3, p4, spacing=152)
row3 = alt.hconcat(p5, p6, spacing=83)

top = alt.vconcat(row1, row2, spacing=51)
chart = alt.vconcat(top, row3, spacing=44).properties(
    padding={"left": 3, "top": 1, "right": 0, "bottom": 0}
).configure_view(stroke=FRAME, strokeWidth=1.1)

chart.save("out.html", embed_options={"renderer": "svg", "actions": False})
